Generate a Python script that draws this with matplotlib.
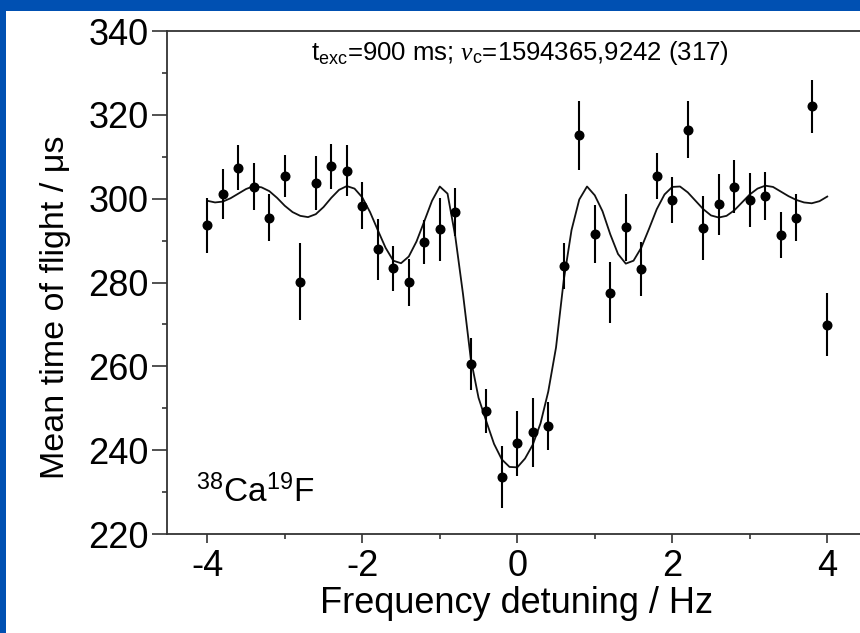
import numpy as np
import matplotlib.pyplot as plt
from matplotlib.patches import Rectangle
from matplotlib.ticker import MultipleLocator

# measured points: detuning (Hz), mean TOF (us), error (us)
detuning = [-4.0, -3.8, -3.6, -3.4, -3.2, -3.0, -2.8, -2.6, -2.4, -2.2,
            -2.0, -1.8, -1.6, -1.4, -1.2, -1.0, -0.8, -0.6, -0.4, -0.2,
            0.0, 0.2, 0.4, 0.6, 0.8, 1.0, 1.2, 1.4, 1.6, 1.8,
            2.0, 2.2, 2.4, 2.6, 2.8, 3.0, 3.2, 3.4, 3.6, 3.8, 4.0]
tof = [293.6, 301.1, 307.4, 302.9, 295.4, 305.3, 280.2, 303.8, 307.7, 306.7,
       298.3, 287.9, 283.4, 280.1, 289.6, 292.7, 296.8, 260.5, 249.4, 233.5,
       241.6, 244.3, 245.8, 284.0, 315.1, 291.6, 277.6, 293.2, 283.2, 305.4,
       299.7, 316.4, 293.0, 298.7, 302.9, 299.7, 300.7, 291.4, 295.5, 322.0, 269.9]
tof_err = [6.5, 5.9, 5.3, 5.5, 5.6, 5.0, 9.2, 6.4, 5.4, 6.0,
           5.6, 7.2, 5.4, 5.6, 5.2, 7.5, 5.8, 6.2, 5.3, 7.4,
           7.7, 8.2, 5.8, 5.5, 8.2, 7.0, 7.3, 8.0, 6.4, 5.5,
           5.5, 6.8, 7.6, 7.3, 6.4, 6.4, 5.7, 5.5, 5.7, 6.4, 7.5]

# fitted line shape
fit_x = [-4.0, -3.9, -3.8, -3.7, -3.6, -3.5, -3.4, -3.3, -3.2, -3.1,
         -3.0, -2.9, -2.8, -2.7, -2.6, -2.5, -2.4, -2.3, -2.2, -2.1,
         -2.0, -1.9, -1.8, -1.7, -1.6, -1.5, -1.4, -1.3, -1.2, -1.1,
         -1.0, -0.9, -0.8, -0.7, -0.6, -0.5, -0.4, -0.3, -0.2, -0.1,
         0.0, 0.1, 0.2, 0.3, 0.4, 0.5, 0.6, 0.7, 0.8, 0.9,
         1.0, 1.1, 1.2, 1.3, 1.4, 1.5, 1.6, 1.7, 1.8, 1.9,
         2.0, 2.1, 2.2, 2.3, 2.4, 2.5, 2.6, 2.7, 2.8, 2.9,
         3.0, 3.1, 3.2, 3.3, 3.4, 3.5, 3.6, 3.7, 3.8, 3.9, 4.0]
fit_y = [299.5, 299.1, 299.3, 300.1, 301.2, 302.3, 303.0, 302.7, 301.8, 300.2,
         298.3, 296.8, 295.9, 295.6, 296.3, 298.0, 300.2, 302.1, 303.0, 302.4,
         300.3, 296.8, 292.5, 288.3, 285.2, 284.6, 286.2, 289.8, 294.6, 299.5,
         302.9, 301.2, 291.0, 277.2, 261.8, 252.5, 246.9, 241.5, 237.8, 236.0,
         235.9, 238.0, 241.3, 246.4, 254.0, 264.5, 280.6, 292.5, 299.8, 302.9,
         300.8, 297.0, 291.5, 286.8, 284.5, 285.2, 288.3, 292.8, 297.5, 301.0,
         302.8, 302.9, 301.5, 299.5, 297.5, 296.0, 295.5, 295.9, 297.2, 299.1,
         301.0, 302.4, 303.1, 302.8, 301.7, 300.6, 299.7, 299.1, 298.9, 299.4, 300.5]

plt.rcParams['font.family'] = ['Liberation Sans', 'DejaVu Sans']
plt.rcParams['mathtext.fontset'] = 'custom'
plt.rcParams['mathtext.rm'] = 'Liberation Sans'
plt.rcParams['mathtext.it'] = 'Liberation Serif:italic'
plt.rcParams['axes.unicode_minus'] = False

fig = plt.figure(figsize=(8.6, 6.33), dpi=100)
fig.patch.set_facecolor('#0050B2')
fig.patches.append(Rectangle((6 / 860, 0), 1, 1 - 11 / 633, transform=fig.transFigure,
                             facecolor='white', edgecolor='none', zorder=-10))

ax = fig.add_axes([167 / 860, 99 / 633, 699 / 860, 503 / 633])
ax.set_facecolor('none')

ax.errorbar(detuning, tof, yerr=tof_err, fmt='o', color='black', ms=6.2,
            elinewidth=1.5, capsize=0, zorder=3)
ax.plot(fit_x, fit_y, color='#111111', lw=1.3, zorder=2)

ax.set_xlim(-4.52, 4.5)
ax.set_ylim(220, 340)
ax.xaxis.set_major_locator(MultipleLocator(2))
ax.xaxis.set_minor_locator(MultipleLocator(1))
ax.yaxis.set_major_locator(MultipleLocator(20))
ax.yaxis.set_minor_locator(MultipleLocator(10))

for s in ['left', 'bottom', 'top']:
    ax.spines[s].set_color('#333333')
    ax.spines[s].set_linewidth(1.3)
ax.spines['right'].set_visible(False)
ax.tick_params(which='both', direction='out', width=1.2, color='#333333', labelsize=26)
ax.tick_params(axis='y', which='major', length=11, pad=2)
ax.tick_params(axis='y', which='minor', length=3.5)
ax.tick_params(axis='x', which='major', length=6.5, pad=4)
ax.tick_params(axis='x', which='minor', length=3.5)
ax.tick_params(axis='x', top=False)

ax.set_xlabel('Frequency detuning / Hz', fontsize=26, labelpad=2)
ax.set_ylabel('Mean time of flight / μs', fontsize=24.5)
ax.yaxis.set_label_coords(-0.138, 0.451)

ax.text(0.03, 333.2, r'$\mathregular{t_{exc}}$=900 ms; $\nu_{\mathregular{c}}$=1594365,9242 (317)',
        ha='center', va='baseline', fontsize=18.5)
ax.text(-4.15, 227.6, r'$\mathregular{^{38}Ca^{19}F}$', ha='left', va='baseline', fontsize=24)

plt.savefig('out.png', dpi=100, facecolor=fig.get_facecolor())
